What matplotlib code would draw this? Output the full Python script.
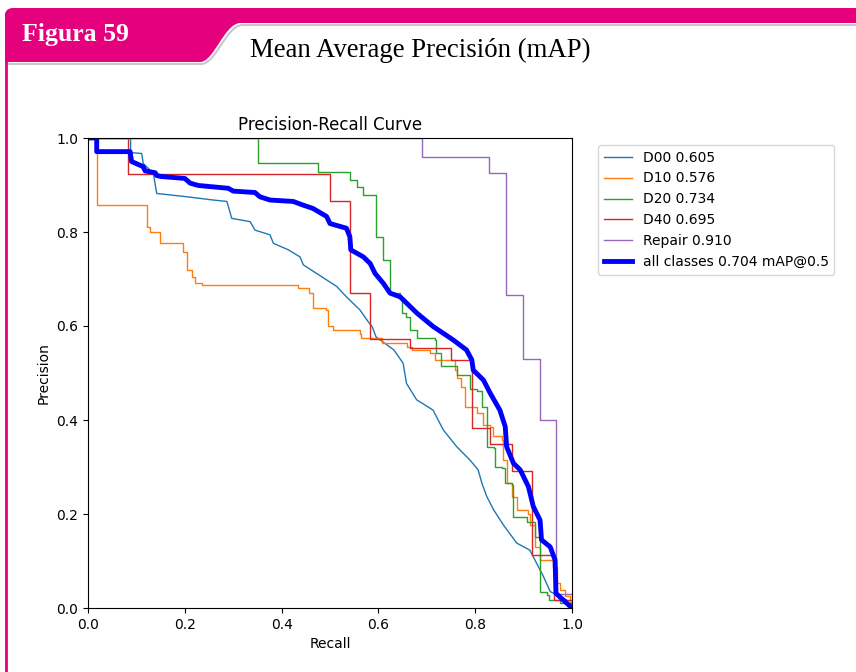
import numpy as np
import matplotlib
matplotlib.use("Agg")
import matplotlib.pyplot as plt
from matplotlib.path import Path
from matplotlib.patches import PathPatch

# -------------------------------------------------------------------
# Datos (recall, precision)
# -------------------------------------------------------------------
class_names = ["D00", "D10", "D20", "D40", "Repair"]
class_ap = [0.605, 0.576, 0.734, 0.695, 0.910]
map50 = 0.704

d00_r = [0.0, 0.088, 0.088, 0.111, 0.114, 0.135, 0.142, 0.204, 0.259, 0.287, 0.297, 0.335,
         0.345, 0.376, 0.383, 0.414, 0.438, 0.445, 0.472, 0.514, 0.534, 0.562, 0.579, 0.587,
         0.595, 0.632, 0.651, 0.658, 0.679, 0.713, 0.734, 0.762, 0.789, 0.806, 0.814, 0.824,
         0.838, 0.858, 0.886, 0.913, 0.927, 0.941, 0.955, 0.989, 1.0]
d00_p = [1.0, 1.0, 0.969, 0.967, 0.946, 0.925, 0.882, 0.875, 0.868, 0.865, 0.829, 0.822,
         0.804, 0.794, 0.776, 0.762, 0.747, 0.730, 0.712, 0.684, 0.662, 0.634, 0.609, 0.599,
         0.577, 0.549, 0.521, 0.478, 0.443, 0.421, 0.379, 0.343, 0.315, 0.294, 0.265, 0.237,
         0.209, 0.177, 0.138, 0.123, 0.095, 0.067, 0.035, 0.017, 0.0]

d10_r = [0.0, 0.018, 0.018, 0.114, 0.121, 0.128, 0.149, 0.197, 0.204, 0.214, 0.221, 0.235,
         0.432, 0.434, 0.457, 0.465, 0.492, 0.495, 0.506, 0.562, 0.565, 0.607, 0.659, 0.669,
         0.707, 0.717, 0.759, 0.763, 0.770, 0.779, 0.803, 0.816, 0.831, 0.837, 0.855, 0.858,
         0.866, 0.875, 0.886, 0.909, 0.913, 0.923, 0.934, 0.961, 0.968, 0.975, 0.986, 0.995, 1.0]
d10_p = [1.0, 1.0, 0.857, 0.857, 0.811, 0.801, 0.777, 0.758, 0.719, 0.705, 0.691, 0.687,
         0.687, 0.680, 0.670, 0.638, 0.634, 0.599, 0.591, 0.584, 0.574, 0.563, 0.556, 0.549,
         0.542, 0.528, 0.506, 0.489, 0.471, 0.428, 0.414, 0.389, 0.386, 0.365, 0.357, 0.315,
         0.265, 0.237, 0.209, 0.201, 0.177, 0.130, 0.102, 0.088, 0.053, 0.038, 0.025, 0.010, 0.0]

d20_r = [0.0, 0.352, 0.352, 0.476, 0.476, 0.541, 0.541, 0.555, 0.569, 0.596, 0.596, 0.610,
         0.610, 0.624, 0.624, 0.645, 0.648, 0.658, 0.665, 0.679, 0.717, 0.720, 0.730, 0.762,
         0.786, 0.789, 0.803, 0.814, 0.824, 0.824, 0.838, 0.841, 0.855, 0.862, 0.876, 0.879,
         0.907, 0.924, 0.934, 0.934, 0.948, 0.952, 0.975, 1.0]
d20_p = [1.0, 1.0, 0.946, 0.946, 0.928, 0.928, 0.911, 0.896, 0.879, 0.879, 0.790, 0.790,
         0.740, 0.740, 0.670, 0.662, 0.627, 0.620, 0.591, 0.574, 0.570, 0.542, 0.514, 0.496,
         0.496, 0.467, 0.462, 0.428, 0.425, 0.343, 0.340, 0.299, 0.297, 0.265, 0.262, 0.194,
         0.184, 0.152, 0.147, 0.035, 0.028, 0.017, 0.010, 0.0]

d40_r = [0.0, 0.083, 0.083, 0.500, 0.500, 0.541, 0.541, 0.583, 0.583, 0.665, 0.665, 0.748,
         0.750, 0.793, 0.793, 0.831, 0.831, 0.877, 0.877, 0.917, 0.917, 0.962, 0.962, 1.0]
d40_p = [1.0, 1.0, 0.923, 0.923, 0.867, 0.867, 0.670, 0.670, 0.572, 0.570, 0.553, 0.553,
         0.528, 0.528, 0.384, 0.384, 0.350, 0.350, 0.292, 0.290, 0.112, 0.112, 0.017, 0.0]

rep_r = [0.0, 0.691, 0.829, 0.864, 0.898, 0.934, 0.967, 1.0]
rep_p = [1.0, 0.960, 0.926, 0.666, 0.529, 0.399, 0.030, 0.0]

all_r = [0.0, 0.018, 0.018, 0.087, 0.090, 0.114, 0.118, 0.139, 0.142, 0.152, 0.200, 0.211,
         0.228, 0.290, 0.300, 0.345, 0.355, 0.376, 0.424, 0.445, 0.465, 0.493, 0.500, 0.534,
         0.541, 0.543, 0.569, 0.583, 0.593, 0.610, 0.624, 0.645, 0.659, 0.680, 0.713, 0.755,
         0.782, 0.793, 0.796, 0.817, 0.831, 0.851, 0.862, 0.865, 0.879, 0.893, 0.910, 0.920,
         0.934, 0.937, 0.955, 0.965, 0.967, 0.982, 1.0]
all_p = [1.0, 1.0, 0.971, 0.971, 0.950, 0.939, 0.930, 0.926, 0.920, 0.918, 0.914, 0.904,
         0.899, 0.893, 0.887, 0.884, 0.875, 0.868, 0.865, 0.857, 0.850, 0.833, 0.818, 0.808,
         0.790, 0.762, 0.747, 0.733, 0.712, 0.691, 0.670, 0.662, 0.648, 0.627, 0.599, 0.570,
         0.549, 0.528, 0.506, 0.485, 0.457, 0.421, 0.386, 0.343, 0.308, 0.294, 0.258, 0.216,
         0.187, 0.145, 0.130, 0.102, 0.031, 0.017, 0.0]

curves = [(d00_r, d00_p), (d10_r, d10_p), (d20_r, d20_p), (d40_r, d40_p), (rep_r, rep_p)]
# D00 tiene escalones muy finos -> se dibuja como polilínea
step_style = ["default", "steps-post", "steps-post", "steps-post", "steps-post"]

MAGENTA = "#E5007E"

# -------------------------------------------------------------------
# Figura y marco de la página
# -------------------------------------------------------------------
fig = plt.figure(figsize=(8.56, 6.72), dpi=100)

bg = fig.add_axes([0, 0, 1, 1], zorder=0)
bg.set_xlim(0, 856); bg.set_ylim(672, 0); bg.axis("off")

# pestaña magenta + franja superior
verts = [(5, 62), (200, 62), (214, 62), (224, 24), (240, 23), (856, 23), (856, 8),
         (13, 8), (5, 8), (5, 16), (5, 62)]
codes = [Path.MOVETO, Path.LINETO, Path.CURVE4, Path.CURVE4, Path.CURVE4, Path.LINETO,
         Path.LINETO, Path.LINETO, Path.CURVE3, Path.CURVE3, Path.CLOSEPOLY]
bg.add_patch(PathPatch(Path(verts, codes), facecolor=MAGENTA, edgecolor="none"))

# sombra gris del borde
sh_verts = [(5, 64), (201, 64), (216, 64), (226, 26), (242, 25), (856, 25)]
sh_codes = [Path.MOVETO, Path.LINETO, Path.CURVE4, Path.CURVE4, Path.CURVE4, Path.LINETO]
bg.add_patch(PathPatch(Path(sh_verts, sh_codes), facecolor="none", edgecolor="#c8c8c8", lw=1.5))

# línea lateral izquierda
bg.plot([6, 6], [12, 672], color=MAGENTA, lw=2, solid_capstyle="butt")

bg.text(22, 34, "Figura 59", color="white", fontsize=18.5, fontweight="bold",
        family="Liberation Serif", va="center", ha="left")
bg.text(250, 50, "Mean Average Precisión (mAP)", color="black", fontsize=19.3,
        family="Liberation Serif", va="center", ha="left")

# -------------------------------------------------------------------
# Curva Precision-Recall
# -------------------------------------------------------------------
ax = fig.add_axes([88 / 856, 1 - 608 / 672, 484 / 856, 470 / 672], zorder=1)

for i, (r, p) in enumerate(curves):
    ax.plot(r, p, linewidth=1, drawstyle=step_style[i],
            label=f"{class_names[i]} {class_ap[i]:.3f}")
ax.plot(all_r, all_p, linewidth=3.5, color="blue",
        label=f"all classes {map50:.3f} mAP@0.5")

ax.set_xlim(0, 1); ax.set_ylim(0, 1)
ax.set_xlabel("Recall"); ax.set_ylabel("Precision")
ax.set_title("Precision-Recall Curve", fontsize=12)
ax.legend(bbox_to_anchor=(1.04, 1), loc="upper left", fontsize=10)

fig.savefig("out.png", dpi=100)
